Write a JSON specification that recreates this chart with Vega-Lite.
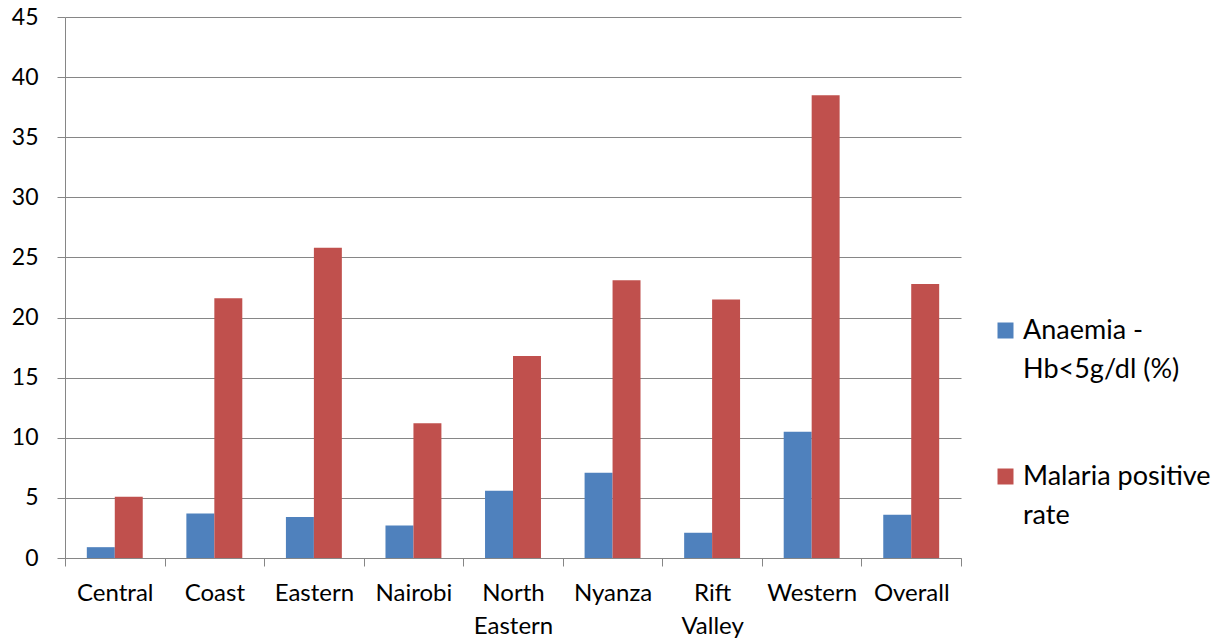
{
  "$schema": "https://vega.github.io/schema/vega-lite/v6.json",
  "width": 896,
  "height": 541,
  "autosize": "none",
  "padding": {"left": 65, "top": 17, "right": 269, "bottom": 80},
  "background": "white",
  "config": {
    "font": "Lato",
    "view": {"stroke": null}
  },
  "data": {
    "values": [
      {"region": "Central", "series": "Anaemia - Hb<5g/dl (%)", "value": 0.9},
      {"region": "Central", "series": "Malaria positive rate", "value": 5.1},
      {"region": "Coast", "series": "Anaemia - Hb<5g/dl (%)", "value": 3.7},
      {"region": "Coast", "series": "Malaria positive rate", "value": 21.6},
      {"region": "Eastern", "series": "Anaemia - Hb<5g/dl (%)", "value": 3.4},
      {"region": "Eastern", "series": "Malaria positive rate", "value": 25.8},
      {"region": "Nairobi", "series": "Anaemia - Hb<5g/dl (%)", "value": 2.7},
      {"region": "Nairobi", "series": "Malaria positive rate", "value": 11.2},
      {"region": "North Eastern", "series": "Anaemia - Hb<5g/dl (%)", "value": 5.6},
      {"region": "North Eastern", "series": "Malaria positive rate", "value": 16.8},
      {"region": "Nyanza", "series": "Anaemia - Hb<5g/dl (%)", "value": 7.1},
      {"region": "Nyanza", "series": "Malaria positive rate", "value": 23.1},
      {"region": "Rift Valley", "series": "Anaemia - Hb<5g/dl (%)", "value": 2.1},
      {"region": "Rift Valley", "series": "Malaria positive rate", "value": 21.5},
      {"region": "Western", "series": "Anaemia - Hb<5g/dl (%)", "value": 10.5},
      {"region": "Western", "series": "Malaria positive rate", "value": 38.5},
      {"region": "Overall", "series": "Anaemia - Hb<5g/dl (%)", "value": 3.6},
      {"region": "Overall", "series": "Malaria positive rate", "value": 22.8}
    ]
  },
  "mark": {"type": "bar"},
  "encoding": {
    "x": {
      "field": "region",
      "type": "nominal",
      "sort": null,
      "scale": {"paddingInner": 0, "paddingOuter": 0},
      "axis": {
        "title": null,
        "labelAngle": 0,
        "labelFontSize": 24,
        "labelColor": "#000000",
        "labelPadding": 15,
        "labelLineHeight": 33,
        "labelExpr": "isValid(datum.value) ? split(datum.value, ' ') : ''",
        "tickBand": "extent",
        "tickSize": 8,
        "tickColor": "#868686",
        "domainColor": "#868686",
        "grid": false
      }
    },
    "xOffset": {
      "field": "series",
      "type": "nominal",
      "sort": ["Anaemia - Hb<5g/dl (%)", "Malaria positive rate"],
      "scale": {"paddingOuter": 0.78, "paddingInner": 0}
    },
    "y": {
      "field": "value",
      "type": "quantitative",
      "scale": {"domain": [0, 45], "nice": false},
      "axis": {
        "title": null,
        "values": [0, 5, 10, 15, 20, 25, 30, 35, 40, 45],
        "labelFontSize": 23,
        "labelColor": "#000000",
        "labelPadding": 19,
        "tickSize": 8,
        "tickColor": "#868686",
        "domainColor": "#868686",
        "gridColor": "#868686",
        "grid": true
      }
    },
    "color": {
      "field": "series",
      "type": "nominal",
      "scale": {
        "domain": ["Anaemia - Hb<5g/dl (%)", "Malaria positive rate"],
        "range": ["#4F81BD", "#C0504D"]
      },
      "legend": {
        "title": null,
        "orient": "none",
        "legendX": 927,
        "legendY": 300,
        "padding": 0,
        "symbolType": "square",
        "symbolSize": 256,
        "symbolStrokeWidth": 0,
        "labelFontSize": 27,
        "labelColor": "#000000",
        "labelLimit": 320,
        "rowPadding": 79,
        "labelExpr": "datum.value == 'Anaemia - Hb<5g/dl (%)' ? ['Anaemia -', 'Hb<5g/dl (%)'] : ['Malaria positive', 'rate']",
        "encode": {
          "labels": {"update": {"lineHeight": {"value": 39}}}
        }
      }
    }
  }
}
